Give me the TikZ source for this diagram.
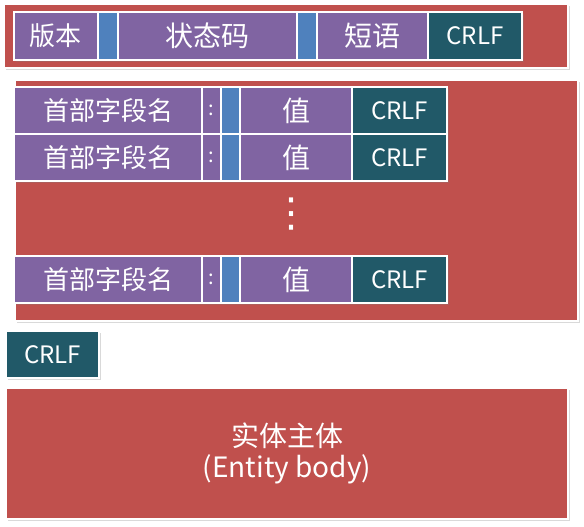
\documentclass[tikz,border=0pt]{standalone}
\usepackage{fontspec}
\setmainfont{Noto Sans CJK SC}
\newfontfamily\symfont{DejaVu Sans}
\usetikzlibrary{positioning, shadows}
\definecolor{cPurple}{HTML}{8064A2}
\definecolor{cBlue}{HTML}{4F81BD}
\definecolor{cRed}{HTML}{C0504D}
\definecolor{cTeal}{HTML}{215968}
\newcommand{\fs}[1]{\fontsize{#1}{1.2\dimexpr#1pt\relax}\selectfont}

\begin{document}
\begin{tikzpicture}[
    x=1pt, y=-1pt,
    node distance=0pt,
    cell/.style={draw=white, line width=2pt, fill=#1, text=white,
                 inner sep=0pt, outer sep=0pt, minimum height=47pt,
                 font=\fs{26},
                 drop shadow={shadow xshift=1.5pt, shadow yshift=-2pt,
                              opacity=0.3}},
    band/.style={cell=cRed, anchor=north west},
    crlf/.style={cell=cTeal, minimum width=#1, font=\fs{24}},
    sep/.style={cell=cBlue, minimum width=#1},
  ]
  \useasboundingbox (0,0) rectangle (584,527);

  % Status line
  \node[band, minimum width=564pt, minimum height=64pt] (statusband) at (4,4) {};
  \node[cell=cPurple, anchor=north west, minimum width=84pt,
        minimum height=48pt] (ver) at (14,12) {版本};
  \node[sep=20pt, minimum height=48pt, right=of ver] (sp1) {};
  \node[cell=cPurple, minimum width=179pt, minimum height=48pt,
        font=\fs{28}, right=of sp1] (code) {状态码};
  \node[sep=20pt, minimum height=48pt, right=of code] (sp2) {};
  \node[cell=cPurple, minimum width=111pt, minimum height=48pt,
        font=\fs{28}, right=of sp2] (phrase) {短语};
  \node[crlf=94pt, minimum height=48pt, right=of phrase] (crlf0) {CRLF};

  % Header lines
  \node[band, minimum width=563pt, minimum height=241pt] (headband) at (15,80) {};
  \foreach \i/\y in {1/87, 2/134, 3/256} {
    \node[cell=cPurple, anchor=north west, minimum width=188pt]
      (name\i) at (14,\y) {首部字段名};
    \node[cell=cPurple, minimum width=19pt, font=\fs{20}, right=of name\i]
      (colon\i) {:};
    \node[sep=19pt, right=of colon\i] (sp\i) {};
    \node[cell=cPurple, minimum width=112pt, font=\fs{28}, right=of sp\i]
      (val\i) {值};
    \node[crlf=95pt, right=of val\i] (crlf\i) {CRLF};
  }
  \node[text=white, font=\symfont\fs{40}, inner sep=0pt] (gap) at (291,214) {⋮};

  % Empty line
  \node[crlf=93pt, anchor=north west] (crlfend) at (6,331) {CRLF};

  % Entity body
  \node[band, minimum width=562pt, minimum height=131pt, align=center,
        font=\fs{28}] (body) at (6,388) {实体主体\\[-2pt](Entity body)};
\end{tikzpicture}
\end{document}
